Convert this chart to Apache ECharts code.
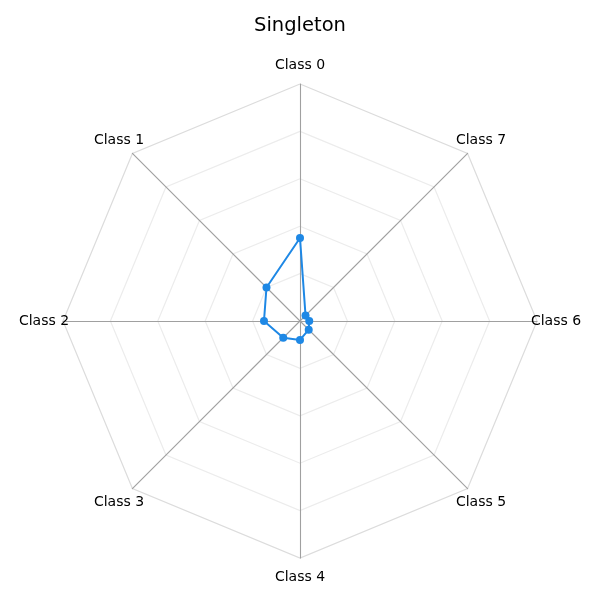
<!DOCTYPE html>
<html>
<head>
<meta charset="utf-8">
<script src="https://cdn.jsdelivr.net/npm/echarts@6/dist/echarts.min.js"></script>
<style>
  html, body { margin: 0; padding: 0; background: #fff; }
  #chart { width: 600px; height: 600px; }
</style>
</head>
<body>
<div id="chart"></div>
<script>
// Radar "Singleton"
const classes = ['Class 0', 'Class 1', 'Class 2', 'Class 3', 'Class 4', 'Class 5', 'Class 6', 'Class 7'];
const values = [0.35, 0.20, 0.152, 0.10, 0.08, 0.052, 0.039, 0.033];
const maxValue = 1;

const chart = echarts.init(document.getElementById('chart'));

const option = {
    animation: false,
    title: {
        text: 'Singleton',
        left: 'center',
        top: 11,
        textStyle: {
            fontFamily: 'DejaVu Sans',
            fontSize: 19.5,
            fontWeight: 'normal',
            color: '#000'
        }
    },
    radar: {
        center: [300, 321],
        radius: 237,
        startAngle: 90,
        splitNumber: 5,
        shape: 'polygon',
        indicator: classes.map(c => ({ name: c, max: maxValue, min: 0 })),
        nameGap: 19,
        axisName: {
            color: '#000',
            fontFamily: 'DejaVu Sans',
            fontSize: 14,
            align: 'center',
            verticalAlign: 'middle'
        },
        axisLine: {
            lineStyle: { color: '#a0a0a0', width: 1.1 }
        },
        splitLine: {
            // index 0 is the centre, 5 the outer ring
            lineStyle: {
                color: ['#ececec', '#ececec', '#ececec', '#ececec', '#ececec', '#dcdcdc'],
                width: 1.2
            }
        },
        splitArea: { show: false }
    },
    series: [
        {
            name: 'Singleton',
            type: 'radar',
            symbol: 'circle',
            symbolSize: 8,
            lineStyle: { color: '#1e88e5', width: 2 },
            itemStyle: { color: '#1e88e5' },
            data: [{ value: values, name: 'Singleton' }]
        }
    ]
};

chart.setOption(option);
</script>
</body>
</html>
